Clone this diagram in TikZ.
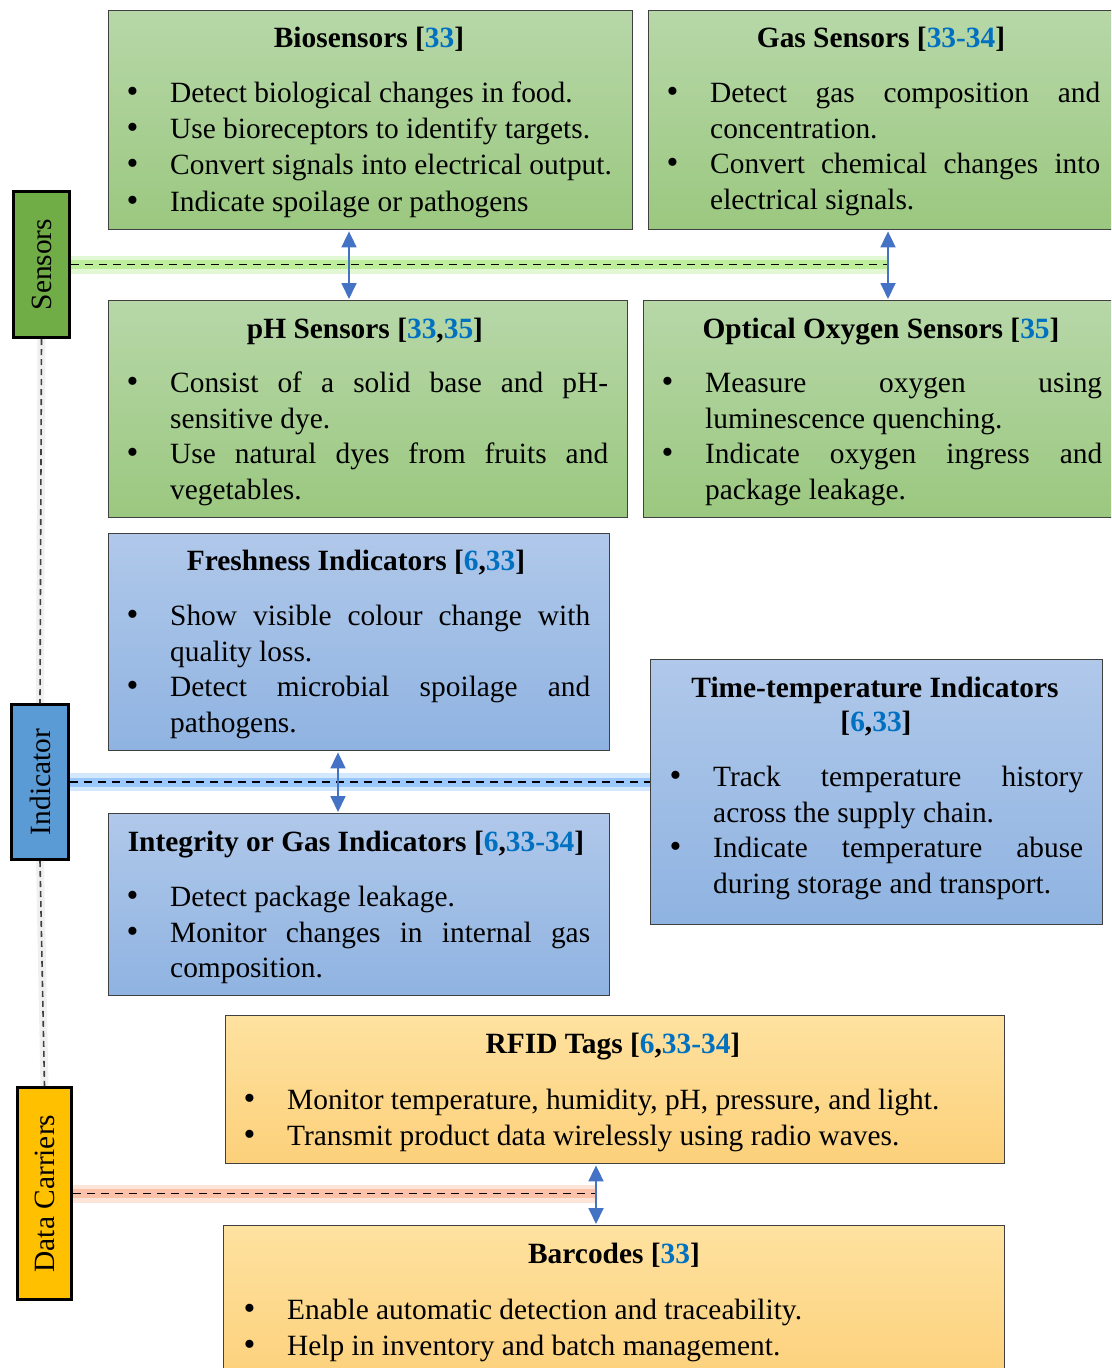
\documentclass[tikz,border=0pt]{standalone}
\usepackage{fontspec}
\setmainfont{Liberation Serif}
\usepackage{graphicx}
\usetikzlibrary{arrows.meta}
\definecolor{gtop}{RGB}{183,215,168}
\definecolor{gbot}{RGB}{155,200,128}
\definecolor{btop}{RGB}{176,200,234}
\definecolor{bbot}{RGB}{143,179,225}
\definecolor{otop}{RGB}{254,226,160}
\definecolor{obot}{RGB}{252,208,122}
\definecolor{boxline}{RGB}{64,64,64}
\definecolor{arrblue}{RGB}{68,114,196}
\definecolor{citeblue}{RGB}{0,112,192}
\definecolor{labgreen}{RGB}{112,173,71}
\definecolor{labblue}{RGB}{91,155,213}
\definecolor{labgold}{RGB}{255,192,0}
\definecolor{glowgreen}{RGB}{160,230,110}
\definecolor{glowblue}{RGB}{110,175,250}
\definecolor{gloworange}{RGB}{250,165,130}
\newcommand\cit[1]{\textcolor{citeblue}{#1}}
\newcommand\bodyfnt{\fontsize{29.4}{35.5}\selectfont\hyphenpenalty=10000 \tolerance=9999 \parindent=0pt }
\newcommand\bodyfntwide{\fontsize{29.4}{36.3}\selectfont\hyphenpenalty=10000 \tolerance=9999 \parindent=0pt }
\newcommand\titlefnt{\fontsize{29.4}{35.5}\selectfont\bfseries}
\newcommand\labfnt{\fontsize{29.4}{35.5}\selectfont}
\newcommand\bitem[1]{\par\noindent\hangindent=44pt\hangafter=1\makebox[44pt][l]{\hspace*{0.5pt}\scalebox{1.15}{•}}#1\par}
\begin{document}
\begin{tikzpicture}[x=1pt,y=-1pt,
  box/.style={draw=boxline, line width=1.4pt, anchor=north west, inner sep=0pt},
  gbox/.style={box, top color=gtop, bottom color=gbot},
  bbox/.style={box, top color=btop, bottom color=bbot},
  obox/.style={box, top color=otop, bottom color=obot},
  lab/.style={draw=black, line width=3pt, anchor=north west, inner sep=0pt, font=\labfnt},
  ttl/.style={anchor=base, inner sep=0pt, font=\titlefnt},
  body/.style={anchor=base west, inner sep=0pt, align=justify, font=\bodyfnt},
  bodyw/.style={anchor=base west, inner sep=0pt, align=justify, font=\bodyfntwide},
  arr/.style={draw=arrblue, line width=1.8pt, {Triangle[length=16pt,width=15pt]}-{Triangle[length=16pt,width=15pt]}, shorten <=1pt, shorten >=1pt},
  dashln/.style={draw=black, line width=1.8pt, dash pattern=on 8pt off 6pt},
  vdash/.style={draw=black!75, line width=1.6pt, dash pattern=on 6pt off 4pt},
  glow/.style={draw=#1, line width=18pt, opacity=0.3},
  glowin/.style={draw=#1, line width=9pt, opacity=0.55},
]
\useasboundingbox (0,0) rectangle (1111,1368);
\clip (0,0) rectangle (1111,1368);

% label boxes
\node[lab, fill=labgreen, minimum width=56, minimum height=146] (sensors) at (12,190) {\rotatebox{90}{Sensors}};
\node[lab, fill=labblue, minimum width=57, minimum height=155] (indicator) at (10,703) {\rotatebox{90}{Indicator}};
\node[lab, fill=labgold, minimum width=54, minimum height=212] (data) at (16,1086) {\rotatebox{90}{Data Carriers}};

% content boxes
\node[gbox, minimum width=524, minimum height=219] (bio) at (108,10) {};
\node[gbox, minimum width=470, minimum height=219] (gas) at (648,10) {};
\node[gbox, minimum width=519, minimum height=217] (ph) at (108,300) {};
\node[gbox, minimum width=476, minimum height=217] (opt) at (643,300) {};
\node[bbox, minimum width=501, minimum height=217] (fresh) at (108,533) {};
\node[bbox, minimum width=452, minimum height=265] (time) at (650,659) {};
\node[bbox, minimum width=501, minimum height=182] (integ) at (108,813) {};
\node[obox, minimum width=779, minimum height=148] (rfid) at (225,1015) {};
\node[obox, minimum width=781, minimum height=160] (bar) at (223,1225) {};

% connector positions
\coordinate (a1) at (349,0);
\coordinate (a2) at (888,0);
\coordinate (a3) at (338,0);
\coordinate (a4) at (596,0);

% vertical dashed spine
\draw[glow=black!20, line width=8pt, opacity=0.3] (sensors.south) -- (indicator.north);
\draw[glow=black!20, line width=8pt, opacity=0.3] (indicator.south) -- (data.north);
\draw[vdash] (sensors.south) -- (indicator.north);
\draw[vdash] (indicator.south) -- (data.north);

% horizontal dashed lines with glow
\draw[glow=glowgreen] (sensors.east) -- (sensors.east -| a2);
\draw[glowin=glowgreen] (sensors.east) -- (sensors.east -| a2);
\draw[dashln] (sensors.east) -- (sensors.east -| a2);
\draw[glow=glowblue] (indicator.east) -- (indicator.east -| time.west);
\draw[glowin=glowblue] (indicator.east) -- (indicator.east -| time.west);
\draw[dashln] (indicator.east) -- (indicator.east -| time.west);
\draw[glow=gloworange] (data.east) -- (data.east -| a4);
\draw[glowin=gloworange] (data.east) -- (data.east -| a4);
\draw[dashln] (data.east) -- (data.east -| a4);

% arrows
\draw[arr] (bio.south -| a1) -- (ph.north -| a1);
\draw[arr] (gas.south -| a2) -- (opt.north -| a2);
\draw[arr] (fresh.south -| a3) -- (integ.north -| a3);
\draw[arr] (rfid.south -| a4) -- (bar.north -| a4);

% titles
\node[ttl] (tbio) at (369,47) {Biosensors [\cit{33}]};
\node[ttl] (tgas) at (881,47) {Gas Sensors [\cit{33-34}]};
\node[ttl] (tph) at (365,338) {pH Sensors [\cit{33},\cit{35}]};
\node[ttl] (topt) at (881,338) {Optical Oxygen Sensors [\cit{35}]};
\node[ttl] (tfresh) at (356,570) {Freshness Indicators [\cit{6},\cit{33}]};
\node[ttl] (ttime) at (875,697) {Time-temperature Indicators};
\node[ttl] (ttimeb) at (876,731) {[\cit{6},\cit{33}]};
\node[ttl] (tinteg) at (356,851) {Integrity or Gas Indicators [\cit{6},\cit{33-34}]};
\node[ttl] (trfid) at (613,1053) {RFID Tags [\cit{6},\cit{33-34}]};
\node[ttl] (tbar) at (614,1263) {Barcodes [\cit{33}]};

% bodies (node base sits one strut height above the first baseline)
\node[bodyw, text width=504] (bbio) at (126,66) {%
\bitem{Detect biological changes in food.}%
\bitem{Use bioreceptors to identify targets.}%
\bitem{Convert signals into electrical output.}%
\bitem{Indicate spoilage or pathogens}};
\node[body, text width=434] (bgas) at (666,67) {%
\bitem{Detect gas composition and\linebreak concentration.}%
\bitem{Convert chemical changes into\linebreak electrical signals.}};
\node[body, text width=482] (bph) at (126,357) {%
\bitem{Consist of a solid base and pH-\linebreak sensitive dye.}%
\bitem{Use natural dyes from fruits and\linebreak vegetables.}};
\node[body, text width=441] (bopt) at (661,357) {%
\bitem{Measure oxygen using\linebreak luminescence quenching.}%
\bitem{Indicate oxygen ingress and\linebreak package leakage.}};
\node[body, text width=464] (bfresh) at (126,590) {%
\bitem{Show visible colour change with\linebreak quality loss.}%
\bitem{Detect microbial spoilage and\linebreak pathogens.}};
\node[body, text width=414] (btime) at (669,751) {%
\bitem{Track temperature history\linebreak across the supply chain.}%
\bitem{Indicate temperature abuse\linebreak during storage and transport.}};
\node[body, text width=464] (binteg) at (126,871) {%
\bitem{Detect package leakage.}%
\bitem{Monitor changes in internal gas\linebreak composition.}};
\node[bodyw, text width=740] (brfid) at (243,1073) {%
\bitem{Monitor temperature, humidity, pH, pressure, and light.}%
\bitem{Transmit product data wirelessly using radio waves.}};
\node[bodyw, text width=740] (bbar) at (243,1283) {%
\bitem{Enable automatic detection and traceability.}%
\bitem{Help in inventory and batch management.}};
\end{tikzpicture}
\end{document}
